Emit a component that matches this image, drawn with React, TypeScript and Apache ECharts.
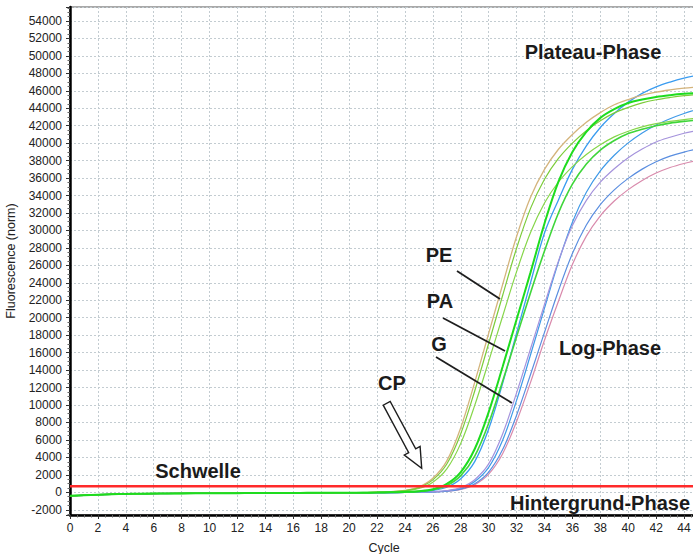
import React, { useEffect, useRef } from "react";
import * as echarts from "echarts";

// Cycle numbers (x values)
const cycles = [
  0, 1, 2, 3, 4, 5, 6, 7, 8, 9, 10, 11, 12, 13, 14, 15, 16, 17, 18, 19, 20, 21, 22,
  23, 24, 25, 26, 27, 28, 29, 30, 31, 32, 33, 34, 35, 36, 37, 38, 39, 40, 41, 42, 43,
  44, 45,
];

// Background phase, cycles 0..19 (shared by all runs)
const background = [
  -400, -340, -280, -220, -180, -160, -145, -135, -125, -115, -108, -100, -95, -88,
  -82, -76, -70, -64, -58, -52,
];

// Fluorescence, cycles 20..45, per run
const peTan = [
  -45, -38, 20, 80, 220, 600, 1600, 3600, 7400, 12600, 18200, 23800, 29300, 33800,
  37000, 39300, 41000, 42400, 43500, 44400, 45000, 45500, 45850, 46100, 46300, 46450,
];
const peGreenA = [
  -45, -38, 15, 70, 195, 530, 1420, 3240, 6710, 11610, 17050, 22550, 27960, 32530,
  35860, 38250, 40010, 41430, 42560, 43470, 44100, 44610, 44970, 45230, 45440, 45590,
];
const peGreenB = [
  -45, -38, 12, 54, 158, 431, 1155, 2678, 5606, 9956, 15000, 20170, 25280, 29760,
  33140, 35550, 37320, 38710, 39820, 40720, 41370, 41860, 42230, 42500, 42700, 42850,
];
const paGreenA = [
  -45, -40, -30, 8, 43, 132, 360, 969, 2326, 4961, 9186, 14380, 19806, 25194, 30800,
  35600, 39000, 41300, 42900, 43900, 44600, 45000, 45300, 45500, 45650, 45750,
];
const paGreenB = [
  -45, -40, -30, 5, 32, 104, 286, 772, 1908, 4134, 7904, 12719, 17807, 22871, 27641,
  32000, 35300, 37600, 39200, 40300, 41100, 41600, 42000, 42300, 42500, 42650,
];
const paBlue = [
  -45, -40, -30, -20, 19, 76, 213, 581, 1550, 3514, 7254, 12483, 18229, 24016, 29710,
  33500, 37000, 39700, 41800, 43400, 44700, 45700, 46450, 47000, 47450, 47800,
];
const gPurple = [
  -45, -40, -35, -30, 0, 18, 72, 199, 542, 1446, 3254, 6690, 11390, 16453, 21515,
  26487, 30555, 33448, 35527, 37064, 38330, 39324, 40138, 40680, 41132, 41448,
];
const gBlueA = [
  -45, -40, -35, -30, -20, 13, 59, 170, 463, 1240, 2861, 5970, 10529, 15755, 21096,
  26370, 30948, 34371, 36822, 38615, 40036, 41171, 42087, 42800, 43400, 43900,
];
const gBlueB = [
  -45, -40, -35, -30, -20, 9, 46, 135, 369, 990, 2325, 4899, 8834, 13500, 18322,
  23096, 27358, 30617, 32946, 34642, 35964, 37027, 37880, 38513, 38982, 39341,
];
const gPink = [
  -45, -40, -35, -30, -20, 7, 39, 119, 326, 875, 2083, 4423, 8113, 12595, 17418,
  21887, 26094, 29355, 31683, 33374, 34678, 35732, 36573, 37210, 37672, 38032,
];

const threshold = 700;

// drawing order (first drawn = bottom)
const runs = [
  { values: gPink, color: "#d98aac", width: 1.2 },
  { values: gBlueB, color: "#5a8ee0", width: 1.2 },
  { values: gBlueA, color: "#3f9ae8", width: 1.2 },
  { values: gPurple, color: "#a593dc", width: 1.2 },
  { values: paBlue, color: "#3a9cf0", width: 1.3 },
  { values: peTan, color: "#d4b47c", width: 1.3 },
  { values: peGreenB, color: "#86d64a", width: 1.2 },
  { values: peGreenA, color: "#7ccc3a", width: 1.2 },
  { values: paGreenB, color: "#3fd63a", width: 1.6 },
  { values: paGreenA, color: "#1edc1e", width: 2 },
];

const FONT = "'Liberation Sans', Arial, Helvetica, sans-serif";

function label(text: string, x: number, y: number) {
  return {
    type: "text",
    x,
    y,
    z: 100,
    style: {
      text,
      fontSize: 20,
      fontWeight: "bold",
      fontFamily: FONT,
      fill: "#1b1b1b",
      align: "center",
      verticalAlign: "middle",
    },
  };
}

function pointer(x1: number, y1: number, x2: number, y2: number) {
  return {
    type: "line",
    z: 100,
    shape: { x1, y1, x2, y2 },
    style: { stroke: "#1e1e1e", lineWidth: 1.8 },
  };
}

export default function App() {
  const ref = useRef<HTMLDivElement>(null);

  useEffect(() => {
    if (!ref.current) return;
    const chart = echarts.init(ref.current, undefined, { renderer: "svg" });

    const series: any[] = runs.map((r) => {
      const full = [...background, ...r.values];
      return {
        type: "line",
        data: cycles.map((c, i) => [c, full[i]]),
        showSymbol: false,
        smooth: 0.35,
        silent: true,
        lineStyle: { color: r.color, width: r.width },
        z: 2,
      };
    });
    series.push({
      type: "line",
      data: [
        [0, threshold],
        [45, threshold],
      ],
      showSymbol: false,
      silent: true,
      lineStyle: { color: "#ff2a2a", width: 2.6 },
      z: 3,
    });

    chart.setOption({
      animation: false,
      backgroundColor: "#ffffff",
      grid: {
        left: 70,
        top: 7,
        width: 628,
        height: 508,
        show: true,
        borderColor: "#555",
        borderWidth: 1.2,
        containLabel: false,
        outerBoundsMode: "none",
      },
      xAxis: {
        type: "value",
        min: 0,
        max: 45,
        interval: 2,
        name: "Cycle",
        nameLocation: "middle",
        nameGap: 26,
        nameTextStyle: { fontSize: 12.5, color: "#222", fontFamily: FONT },
        axisLine: { onZero: false, lineStyle: { color: "#000", width: 2.5 } },
        axisTick: { show: true, length: 4, lineStyle: { color: "#333" } },
        minorTick: { show: true, splitNumber: 4, length: 2.5, lineStyle: { color: "#666" } },
        axisLabel: {
          fontSize: 12,
          color: "#222",
          margin: 7,
          fontFamily: FONT,
          showMaxLabel: false,
          formatter: (v: number) => (v % 2 === 0 ? String(v) : ""),
        },
        splitLine: { show: true, lineStyle: { color: "#c3ccd1", type: [2, 2], width: 1 } },
      },
      yAxis: {
        type: "value",
        min: -2600,
        max: 55600,
        splitNumber: 29,
        minInterval: 2000,
        maxInterval: 2000,
        name: "Fluorescence (norm)",
        nameLocation: "middle",
        nameGap: 47,
        nameTextStyle: { fontSize: 12.5, color: "#222", fontFamily: FONT },
        axisLine: { onZero: false, lineStyle: { color: "#000", width: 2.5 } },
        axisTick: { show: true, length: 4, lineStyle: { color: "#333" } },
        minorTick: { show: true, splitNumber: 4, length: 2.5, lineStyle: { color: "#666" } },
        axisLabel: {
          fontSize: 12,
          color: "#222",
          fontFamily: FONT,
          showMinLabel: false,
          showMaxLabel: false,
          formatter: (v: number) => (v % 2000 === 0 ? String(v) : ""),
        },
        splitLine: { show: true, lineStyle: { color: "#c3ccd1", type: [2, 2], width: 1 } },
      },
      series,
      graphic: [
        label("Plateau-Phase", 593, 52),
        label("Log-Phase", 610, 348),
        label("Hintergrund-Phase", 600, 503),
        label("Schwelle", 198, 471),
        label("CP", 392, 383),
        label("PE", 439, 255),
        label("PA", 440, 301),
        label("G", 439, 344),
        pointer(457, 271, 500, 299),
        pointer(443, 318, 505, 351),
        pointer(436, 357, 512, 403),
        {
          type: "polygon",
          z: 100,
          shape: {
            points: [
              [383.2, 405.2],
              [408.7, 452.6],
              [404.3, 455.0],
              [421.7, 468.3],
              [420.1, 446.4],
              [415.7, 448.8],
              [390.2, 401.4],
            ],
          },
          style: { fill: "#ffffff", stroke: "#1e1e1e", lineWidth: 1.4 },
        },
      ],
    });

    return () => chart.dispose();
  }, []);

  return (
    <div
      ref={ref}
      style={{ position: "absolute", left: 0, top: 0, width: 693, height: 554 }}
    />
  );
}
